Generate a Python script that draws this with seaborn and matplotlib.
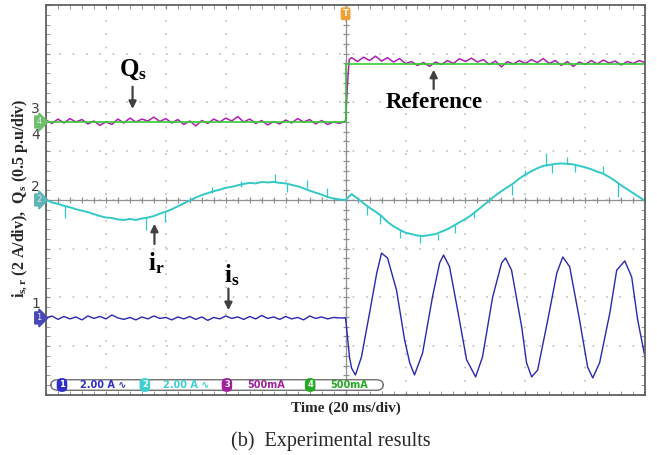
#!/usr/bin/env python3
import numpy as np
import pandas as pd
import seaborn as sns
import matplotlib.pyplot as plt
from matplotlib.ticker import MultipleLocator
from matplotlib.patches import FancyBboxPatch

# time in ms (20 ms/div), values in scope divisions
clock_before = np.arange(-100, 1, 2)
clock_after = np.arange(2, 101, 2)

# Qs (magenta, ch3) and its reference (green, ch4)
qs_before = [1.64, 1.57, 1.66, 1.58, 1.67, 1.60, 1.65, 1.56, 1.62, 1.53,
             1.60, 1.55, 1.66, 1.58, 1.68, 1.60, 1.66, 1.62, 1.70, 1.61,
             1.67, 1.58, 1.65, 1.55, 1.62, 1.52, 1.63, 1.57, 1.66, 1.60,
             1.68, 1.62, 1.71, 1.60, 1.66, 1.57, 1.63, 1.54, 1.61, 1.56,
             1.64, 1.58, 1.67, 1.60, 1.65, 1.56, 1.63, 1.55, 1.60, 1.57,
             1.62]
qs_step_t = [0.6, 1.2]
qs_step = [2.35, 2.88]
qs_after = [2.92, 2.84, 2.93, 2.86, 2.95, 2.85, 2.92, 2.83, 2.90, 2.80,
            2.84, 2.76, 2.82, 2.74, 2.83, 2.78, 2.86, 2.80, 2.90, 2.84,
            2.91, 2.83, 2.88, 2.78, 2.85, 2.73, 2.84, 2.79, 2.86, 2.80,
            2.88, 2.82, 2.90, 2.80, 2.86, 2.76, 2.84, 2.74, 2.83, 2.78,
            2.86, 2.79, 2.87, 2.81, 2.85, 2.77, 2.84, 2.80, 2.86, 2.82]
ref_t = [-100, 0, 0, 100]
ref_v = [1.59, 1.59, 2.78, 2.78]

# rotor current i_r (cyan, ch2)
ir_before = [0.00, -0.05, -0.08, -0.12, -0.15, -0.19, -0.22, -0.25, -0.29, -0.33,
             -0.36, -0.37, -0.40, -0.41, -0.39, -0.41, -0.38, -0.36, -0.33, -0.28,
             -0.24, -0.19, -0.13, -0.07, -0.01, 0.05, 0.10, 0.14, 0.18, 0.21,
             0.25, 0.27, 0.30, 0.33, 0.35, 0.34, 0.37, 0.36, 0.37, 0.35,
             0.34, 0.31, 0.28, 0.24, 0.19, 0.15, 0.11, 0.06, 0.03, 0.01,
             0.00]
ir_after = [0.12, 0.03, -0.07, -0.16, -0.24, -0.33, -0.45, -0.54, -0.61, -0.67,
            -0.70, -0.73, -0.74, -0.72, -0.70, -0.65, -0.60, -0.53, -0.46, -0.39,
            -0.31, -0.21, -0.11, -0.01, 0.09, 0.18, 0.26, 0.34, 0.44, 0.52,
            0.59, 0.65, 0.70, 0.72, 0.74, 0.75, 0.74, 0.73, 0.70, 0.67,
            0.63, 0.58, 0.54, 0.47, 0.39, 0.30, 0.22, 0.14, 0.06, -0.02]
ir_spike_t = [-93.5, -66.5, -60.4, -44.7, -35.0, -23.7, -19.7, -13.0, -6.3,
              7.0, 11.4, 18.0, 24.7, 30.7, 36.4, 43.0, 55.4, 59.8, 66.8, 69.0, 73.8, 76.5, 85.8, 90.8]
ir_spike_lo = [-0.37, -0.62, -0.45, 0.15, 0.26, 0.37, 0.16, 0.24, 0.07,
               -0.31, -0.50, -0.78, -0.88, -0.83, -0.68, -0.36, 0.10, 0.50, 0.70, 0.55, 0.74, 0.58, 0.55, 0.06]
ir_spike_hi = [-0.12, -0.35, -0.25, 0.27, 0.38, 0.53, 0.33, 0.41, 0.25,
               -0.12, -0.28, -0.61, -0.72, -0.69, -0.52, -0.22, 0.30, 0.62, 0.96, 0.73, 0.88, 0.73, 0.70, 0.35]

# stator current i_s (blue, ch1)
is_before = [-2.42, -2.38, -2.45, -2.39, -2.44, -2.40, -2.46, -2.38, -2.43, -2.39,
             -2.44, -2.36, -2.42, -2.45, -2.41, -2.46, -2.40, -2.44, -2.38, -2.43,
             -2.41, -2.46, -2.40, -2.44, -2.39, -2.45, -2.40, -2.47, -2.41, -2.44,
             -2.38, -2.43, -2.40, -2.45, -2.39, -2.44, -2.37, -2.43, -2.40, -2.45,
             -2.39, -2.44, -2.41, -2.46, -2.38, -2.43, -2.40, -2.44, -2.41, -2.42,
             -2.42]
is_after_t = [1.3, 2.0, 3.3, 5.3, 8.0, 10.4, 12.0, 14.0, 17.0, 19.7, 21.4, 23.0,
              25.7, 29.0, 31.4, 32.7, 34.7, 37.4, 40.4, 43.4, 45.7, 49.1, 52.1, 53.4,
              55.4, 58.8, 60.4, 62.1, 64.1, 67.5, 70.5, 72.5, 74.8, 78.1, 80.8, 82.5,
              84.8, 88.2, 90.5, 93.2, 95.5, 97.5, 99.8]
is_after = [-3.22, -3.45, -3.59, -3.22, -2.32, -1.50, -1.09, -1.19, -1.85, -2.87, -3.34, -3.59,
            -3.14, -1.99, -1.29, -1.13, -1.37, -2.26, -3.28, -3.63, -3.22, -1.99, -1.29, -1.19,
            -1.44, -2.61, -3.34, -3.63, -3.49, -2.46, -1.50, -1.17, -1.37, -2.46, -3.43, -3.65,
            -3.34, -2.32, -1.44, -1.25, -1.58, -2.46, -3.18]

# channel markers on the left edge
ch_names = ['4', '2', '1']
ch_offsets = [1.60, 0.0, -2.42]
ch_flag_colors = ['#6CC06C', '#5FB5B5', '#4848B8']
side_labels = ['3', '4', '2', '1']
side_label_y = [1.87, 1.33, 0.27, -2.13]

# legend bar of the scope
bar_nums = ['1', '2', '3', '4']
bar_texts = ['2.00 A \u223f', '2.00 A \u223f', '500mA', '500mA']
bar_colors = ['#2E2EC8', '#3CCFCF', '#A020A0', '#22AA22']

c_qs = '#B020B0'
c_ref = '#33CC33'
c_ir = '#33C8C8'
c_is = '#2828B0'
c_grid = '#BDBDBD'
c_frame = '#606060'

sns.set_style('white')
plt.rcParams['mathtext.fontset'] = 'custom'
plt.rcParams['mathtext.rm'] = 'Liberation Serif'
plt.rcParams['mathtext.bf'] = 'Liberation Serif:bold'
plt.rcParams['mathtext.it'] = 'Liberation Serif:italic'

fig = plt.figure(figsize=(6.57, 4.55), dpi=100)
ax = fig.add_axes([0.070, 0.132, 0.912, 0.857])
ax.set_xlim(-100, 100)
ax.set_ylim(-4, 4)

# scope graticule
ax.set_xticks(np.arange(-100, 101, 20))
ax.set_yticks(np.arange(-4, 5, 1))
ax.xaxis.set_minor_locator(MultipleLocator(4))
ax.yaxis.set_minor_locator(MultipleLocator(0.2))
ax.tick_params(which='both', direction='in', length=3, color='#888888',
               top=True, right=True, bottom=True, left=True,
               labelbottom=False, labelleft=False)
ax.grid(True, which='major', color=c_grid, linestyle=(0, (1, 7)), lw=1.2)
for s in ax.spines.values():
    s.set_color(c_frame)
    s.set_linewidth(1.3)
ax.axhline(0, color='#909090', lw=0.9, zorder=1)
ax.axvline(0, color='#909090', lw=0.9, zorder=1)
mx = np.arange(-100, 101, 4)
ax.plot(mx, np.zeros_like(mx), ls='none', marker='|', ms=5, color='#909090', mew=0.9, zorder=1)
my = np.arange(-4, 4.01, 0.2)
ax.plot(np.zeros_like(my), my, ls='none', marker='_', ms=5, color='#909090', mew=0.9, zorder=1)

# traces
qs_t = list(clock_before) + qs_step_t + list(clock_after)
qs_v = qs_before + qs_step + qs_after
sns.lineplot(x=qs_t, y=qs_v, ax=ax, color=c_qs, lw=1.1, estimator=None, sort=False)
sns.lineplot(x=ref_t, y=ref_v, ax=ax, color=c_ref, lw=1.2, estimator=None, sort=False)

ir = pd.DataFrame({'t': list(clock_before) + list(clock_after), 'v': ir_before + ir_after})
sns.lineplot(data=ir, x='t', y='v', ax=ax, color=c_ir, lw=1.4, estimator=None, sort=False)
ax.vlines(ir_spike_t, ir_spike_lo, ir_spike_hi, color=c_ir, lw=0.9)

is_t = list(clock_before) + is_after_t
is_v = is_before + is_after
sns.lineplot(x=is_t, y=is_v, ax=ax, color=c_is, lw=1.0, estimator=None, sort=False)

ax.set_xlabel('')
ax.set_ylabel('')

# channel flags and side numbers
for name, off, col in zip(ch_names, ch_offsets, ch_flag_colors):
    ax.text(-101.5, off, name, ha='right', va='center', fontsize=6, color='#E8E8E8',
            bbox=dict(boxstyle='rarrow,pad=0.18', fc=col, ec=col), clip_on=False, zorder=5)
for lab, y in zip(side_labels, side_label_y):
    ax.text(-102.0, y, lab, ha='right', va='center', fontsize=10, color='#404040',
            family='DejaVu Sans', clip_on=False)

# trigger mark
ax.text(0, 3.82, 'T', ha='center', va='center', fontsize=6, color='white', weight='bold',
        bbox=dict(boxstyle='round,pad=0.15', fc='#F0A030', ec='#F0A030'), zorder=5)

# legend bar
bar = FancyBboxPatch((0.008, 0.012), 0.555, 0.027, boxstyle='round,pad=0,rounding_size=0.012',
                     transform=ax.transAxes, fc='white', ec='#707070', lw=1.0, zorder=4,
                     mutation_aspect=1.2)
ax.add_patch(bar)
bar_circle_x = [0.0267, 0.165, 0.302, 0.441]
bar_text_x = [0.0568, 0.195, 0.336, 0.474]
for num, txt, col, cx, tx in zip(bar_nums, bar_texts, bar_colors, bar_circle_x, bar_text_x):
    ax.text(cx, 0.0255, num, transform=ax.transAxes, ha='center', va='center', fontsize=6,
            color='white', weight='bold', zorder=5,
            bbox=dict(boxstyle='round,pad=0.2,rounding_size=0.5', fc=col, ec=col))
    ax.text(tx, 0.0255, txt, transform=ax.transAxes, ha='left', va='center', fontsize=7,
            color=col, weight='bold', family='DejaVu Sans', zorder=5)

# annotations
arrow_kw = dict(arrowstyle='-|>', color='#404040', lw=1.6, mutation_scale=11)
ann_font = dict(family='Liberation Serif', weight='bold', color='black')
ax.text(-70.8, 2.67, r'$\mathbf{Q}_\mathbf{s}$', ha='center', va='center', fontsize=18, **ann_font)
ax.annotate('', xy=(-71.1, 1.81), xytext=(-71.1, 2.38), arrowprops=arrow_kw)
ax.text(29.7, 1.99, 'Reference', ha='center', va='center', fontsize=16.5, **ann_font)
ax.annotate('', xy=(29.4, 2.73), xytext=(29.4, 2.22), arrowprops=arrow_kw)
ax.text(-63.1, -1.29, r'$\mathbf{i}_\mathbf{r}$', ha='center', va='center', fontsize=18, **ann_font)
ax.annotate('', xy=(-63.8, -0.43), xytext=(-63.8, -0.96), arrowprops=arrow_kw)
ax.text(-38.1, -1.54, r'$\mathbf{i}_\mathbf{s}$', ha='center', va='center', fontsize=18, **ann_font)
ax.annotate('', xy=(-39.1, -2.32), xytext=(-39.1, -1.76), arrowprops=arrow_kw)

# axis titles and caption
fig.text(20 / 657, 1 - 198 / 455,
         r'$\mathbf{i}_{\mathbf{s,r}}$ (2 A/div),  $\mathbf{Q}_\mathbf{s}$ (0.5 p.u/div)',
         rotation=90, ha='center', va='center', fontsize=11.5, family='Liberation Serif', weight='bold')
fig.text(346 / 657, 1 - 408 / 455, 'Time (20 ms/div)', ha='center', va='center',
         fontsize=11, family='Liberation Serif', weight='bold')
fig.text(331 / 657, 1 - 441 / 455, '(b)  Experimental results', ha='center', va='center',
         fontsize=14.5, family='Liberation Serif')

plt.savefig('out.png', dpi=100)
